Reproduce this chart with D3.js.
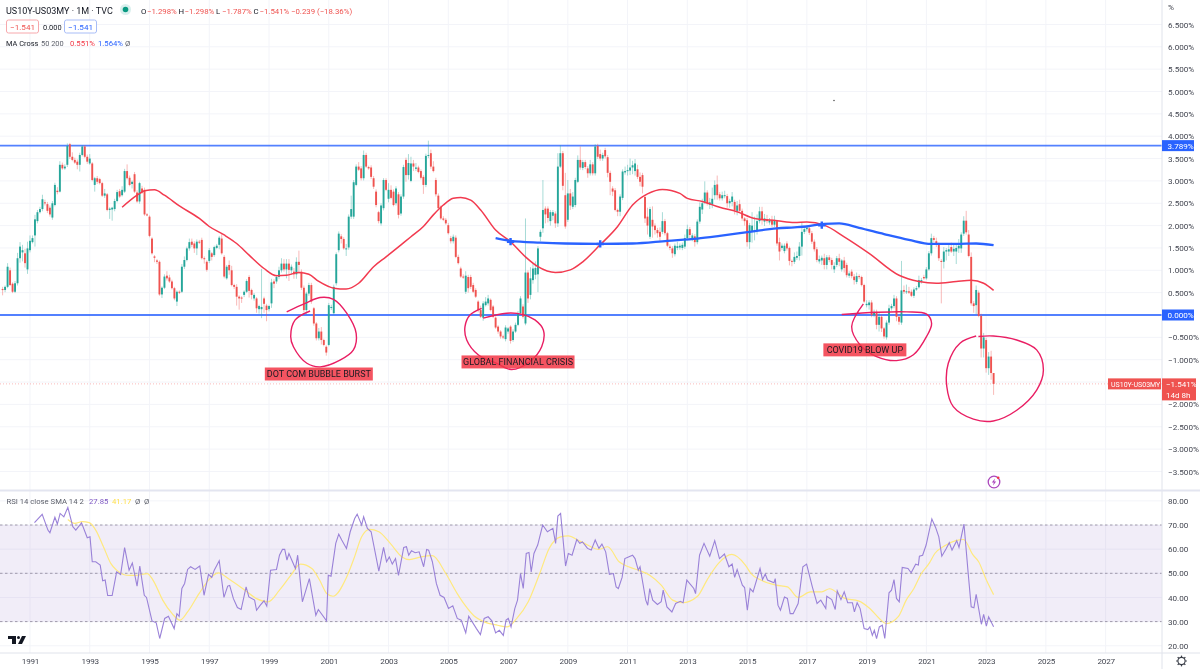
<!DOCTYPE html>
<html lang="en">
<head>
<meta charset="UTF-8">
<title>US10Y-US03MY</title>
<script src="https://d3js.org/d3.v7.min.js"></script>
<style>
    html, body { margin: 0; padding: 0; background: #fff; overflow: hidden; }
    svg { display: block; filter: blur(0.35px); }
    text { font-family: Roboto, sans-serif; }
    .tick text { fill: #434651; font-size: 8.1px; }
    .time .tick text { letter-spacing: -.2px; }
    .mark-label { font-size: 9px; fill: #1b1b22; text-anchor: middle; }
</style>
</head>
<body>
<svg id="chart" width="1200" height="669"></svg>
<script>
// monthly candles, one row = 20 bars, first bar Feb 1990
const opens = [
    .58,.56,.63,1.0,.70,.52,.71,1.27,1.40,1.38,1.02,1.45,1.63,1.78,2.10,2.30,2.37,2.52,2.48,2.40,
    2.18,2.46,2.78,2.76,3.36,3.28,3.36,3.82,3.54,3.47,3.43,3.36,3.58,3.77,3.54,3.39,3.39,2.91,3.06,3.04,
    2.95,2.67,2.70,2.35,2.36,2.37,2.55,2.77,2.68,2.76,3.22,3.07,2.93,3.15,2.74,2.54,2.83,2.80,2.25,2.20,
    1.71,1.31,1.22,1.19,.46,.61,.88,.84,.75,.60,.30,.52,.52,1.08,1.23,1.49,1.64,1.60,1.49,1.64,
    1.68,1.27,1.19,1.21,1.38,1.34,1.50,1.57,1.71,1.30,.82,1.12,1.0,.67,.63,.41,.39,.45,.52,.85,
    .56,.37,.37,.13,.13,.37,.21,.13,.26,.75,.75,.85,1.0,1.15,1.02,1.15,1.0,.97,.91,1.19,
    .97,.61,.11,.48,.67,.15,-.19,-.52,-.37,-.56,-.71,-.67,.16,.04,.71,1.45,1.76,1.70,1.47,1.51,
    2.20,2.20,2.91,3.32,3.28,3.06,3.58,3.31,3.30,3.06,2.76,2.30,2.05,2.39,3.02,2.60,2.80,2.76,2.50,2.70,
    2.27,2.65,3.47,3.13,3.0,3.39,3.27,3.30,3.22,3.09,2.91,3.56,3.62,3.32,3.02,2.67,2.42,2.16,2.13,2.01,
    1.72,1.65,1.73,1.30,1.04,.86,.52,.85,.85,.67,.56,.30,.11,-.06,.22,.26,.34,.19,-.06,-.26,
    -.37,-.48,-.54,-.37,-.26,-.56,-.37,-.22,.04,.19,-.19,.95,.45,.78,.90,.91,1.75,1.94,2.38,2.38,
    2.10,2.22,2.27,2.05,3.32,3.62,2.68,2.13,2.72,2.42,2.46,2.98,3.47,3.29,3.42,3.28,3.17,3.37,3.17,3.78,
    3.60,3.50,3.69,3.53,3.18,2.83,2.79,2.35,2.31,2.62,3.19,3.22,3.23,3.30,3.22,3.26,3.09,3.13,2.64,2.20,
    1.75,2.13,2.0,1.90,1.86,1.86,2.10,1.83,1.53,1.49,1.36,1.50,1.51,1.50,1.53,1.72,1.92,1.70,1.76,1.63,
    2.09,2.36,2.53,2.74,2.47,2.47,2.68,2.92,2.70,2.61,2.66,2.66,2.50,2.53,2.53,2.33,2.48,2.33,2.16,2.12,
    1.63,1.87,1.87,1.90,2.10,2.32,2.09,2.14,2.07,2.12,2.02,2.10,1.63,1.50,1.43,1.60,1.50,1.21,1.19,1.28,
    1.32,1.53,1.86,1.92,1.94,1.83,1.64,1.47,1.20,1.22,1.27,1.12,1.29,1.23,1.02,1.12,1.27,1.02,1.22,1.12,
    .88,.97,.86,.74,.87,.85,.67,.22,.22,.28,.0,.07,-.22,-.04,-.30,-.50,-.17,.15,.20,.37,
    -.04,-.17,.56,.52,.53,.52,.43,.57,.62,.75,.85,.82,1.02,1.38,1.72,1.65,1.57,1.21,1.19,1.42,
    1.42,1.52,1.42,1.42,1.49,1.49,1.82,2.11,1.80,1.30,.26,.22,.50,-.02,-.75,-.56,-1.19,-.93,-1.298
];
const closes = [
    .56,.63,1.08,.67,.52,.71,1.27,1.53,1.45,1.16,1.49,1.66,1.72,2.14,2.30,2.37,2.59,2.50,2.33,2.25,
    2.50,2.91,2.75,3.36,3.28,3.32,3.78,3.54,3.47,3.41,3.36,3.58,3.77,3.54,3.43,3.50,3.02,3.06,2.98,2.95,
    2.67,2.72,2.35,2.38,2.40,2.55,2.75,2.65,2.80,3.22,3.06,2.91,2.98,2.76,2.54,2.95,2.74,2.25,2.23,1.77,
    1.38,1.28,1.19,.46,.61,.86,.82,.75,.60,.37,.52,.50,1.08,1.23,1.49,1.63,1.57,1.49,1.64,1.62,
    1.27,1.25,1.01,1.45,1.30,1.52,1.55,1.73,1.38,.86,1.08,1.0,.67,.63,.41,.37,.37,.52,.76,.54,
    .45,.45,.15,.20,.18,.25,.11,.20,.73,.70,.85,1.0,1.15,1.02,1.15,1.01,1.08,.91,1.19,1.12,
    .61,.11,.48,.67,.30,-.19,-.52,-.37,-.56,-.67,-.84,.22,.18,.63,1.36,1.82,1.70,1.49,1.49,2.20,
    2.37,2.97,3.32,3.25,3.06,3.58,3.32,3.28,3.09,2.87,2.46,2.10,2.45,3.02,2.80,2.80,2.62,2.46,2.83,2.24,
    2.65,3.31,3.13,3.40,3.39,3.32,3.30,3.20,3.07,2.91,3.56,3.58,3.32,3.22,2.70,2.39,2.16,2.13,2.05,1.83,
    1.65,1.75,1.30,1.16,.86,.85,.88,.60,.63,.52,.41,.11,-.04,.26,.30,.37,.11,-.04,-.28,-.37,
    -.48,-.49,-.28,-.30,-.58,-.37,-.22,.04,.37,-.04,.95,.37,.82,1.04,1.05,1.49,1.86,2.35,2.25,2.17,
    2.30,2.30,2.05,3.32,3.62,2.89,1.98,2.72,2.45,2.65,3.02,3.47,3.30,3.42,3.31,3.17,3.37,3.17,3.77,3.54,
    3.50,3.58,3.55,3.18,2.98,2.76,2.35,2.31,2.65,3.21,3.22,3.24,3.30,3.35,3.39,3.09,2.98,2.87,2.16,2.00,
    2.37,1.98,1.90,1.83,1.75,2.10,1.83,1.55,1.50,1.38,1.55,1.54,1.55,1.57,1.72,1.92,1.79,1.78,1.63,2.09,
    2.42,2.50,2.74,2.50,2.52,2.60,2.91,2.68,2.61,2.68,2.68,2.50,2.55,2.65,2.35,2.45,2.33,2.16,2.10,1.63,
    2.01,2.00,1.90,2.10,2.32,2.12,2.16,2.10,2.12,2.02,2.12,1.60,1.42,1.55,1.55,1.49,1.21,1.19,1.30,1.32,
    1.53,1.86,1.92,1.95,1.84,1.64,1.47,1.23,1.25,1.28,1.12,1.29,1.23,1.12,1.10,1.27,1.19,1.22,1.05,.89,
    .93,.87,.78,.87,.85,.67,.30,.25,.28,.0,.07,-.22,-.04,-.30,-.48,-.17,.15,.20,.37,-.04,
    -.15,.55,.52,.53,.50,.43,.57,.60,.78,.78,.82,1.02,1.38,1.72,1.68,1.57,1.27,1.19,1.42,1.45,
    1.47,1.42,1.48,1.50,1.55,1.80,2.11,1.85,1.32,.26,.20,.56,-.02,-.75,-.50,-1.19,-.93,-1.298,-1.541
];
// wick lengths above / below the body
const wickUp = [
    .05,.03,.08,.06,.03,.05,.12,.1,.12,.1,.15,.12,.06,.1,.05,.05,.1,.06,.05,.05,
    .05,.05,.08,.08,.05,.05,.06,.03,.1,.05,.05,.05,.03,.03,.05,.1,.03,.03,.05,.03,
    .03,.1,.03,.03,.02,.05,.05,.05,.08,.05,.15,.05,.03,.05,.05,.03,.06,.05,.03,.03,
    .03,.03,.03,.03,.03,.05,.1,.06,.04,.03,.03,.03,.06,.08,.04,.08,.07,.05,.05,.04,
    .05,.04,.03,.05,.03,.03,.04,.04,.1,.04,.04,.1,.1,.03,.06,.03,.03,.03,.04,.04,
    .03,.04,.03,.03,.85,.04,.04,.03,.08,.05,.05,.08,.12,.1,.1,.1,.05,.08,.1,.25,
    .05,.05,.04,.05,.05,.03,.03,.08,.1,.03,.03,.05,.05,.05,.04,.05,.05,.04,.1,.05,
    .3,.05,.05,.1,.05,.1,.05,.03,.05,.05,.05,.03,.05,.04,.04,.15,.1,.05,.05,.05,
    .05,.05,.05,.2,.15,.08,.1,.04,.04,.04,.05,.32,.08,.12,.05,.05,.03,.05,.04,.05,
    .05,.05,.05,.05,.04,.05,.1,.05,.05,.05,.04,.03,.1,.05,.1,.08,.03,.03,.03,.03,
    .03,.04,.05,.03,.03,.05,.05,.05,.05,.05,1.21,.05,.25,.1,.15,.05,.05,.67,.05,.05,
    .05,.05,.05,.3,.18,.05,.5,.3,.1,.1,.05,.1,.3,.05,.05,.05,.1,.05,.05,.05,
    .1,.05,.05,.05,.05,.05,.05,.03,.05,.05,.1,.12,.2,.1,.1,.1,.1,.05,.05,.2,
    .05,.3,.05,.05,.1,.2,.05,.03,.05,.05,.05,.1,.05,.05,.08,.1,.05,.05,.05,.05,
    .1,.1,.25,.05,.1,.25,.1,.2,.05,.08,.1,.05,.05,.1,.05,.1,.1,.05,.03,.05,
    .05,.3,.3,.15,.1,.1,.1,.1,.05,.1,.1,.03,.1,.05,.05,.05,.03,.03,.1,.1,
    .1,.2,.05,.06,.03,.05,.05,.05,.08,.05,.1,.05,.05,.05,.08,.05,.1,.03,.08,.05,
    .05,.05,.06,.08,.04,.03,.03,.08,.05,.05,.05,.05,.1,.05,.03,.05,.08,.05,.08,.05,
    .02,.66,.1,.15,.1,.05,.05,.05,.1,.05,.05,.05,.05,.1,.05,.08,.05,.04,.1,.05,
    .1,.1,.1,.1,.15,.05,.1,.22,.1,.1,.05,.1,.05,.05,.1,.05,.1,.13,0
];
const wickDown = [
    .12,.05,.03,.02,.03,.03,.05,.1,.2,.1,.1,.05,.03,.25,.05,.03,.05,.05,.05,.05,
    .05,.03,.05,.02,.03,.03,.05,.05,.03,.03,.1,.15,.03,.03,.05,.03,.03,.15,.05,.03,
    .03,.05,.03,.2,.25,.05,.03,.03,.03,.03,.03,.03,.1,.03,.03,.05,.03,.03,.02,.03,
    .03,.1,.05,.03,.08,.03,.05,.03,.03,.04,.1,.03,.03,.05,.03,.05,.05,.1,.15,.03,
    .03,.1,.04,.05,.08,.04,.03,.1,.03,.04,.03,.1,.03,.05,.2,.25,.1,.05,.03,.15,
    .1,.05,.1,.1,.2,.2,.25,.05,.1,.1,.05,.05,.05,.05,.2,.25,.1,.1,.1,.2,
    .05,.05,.1,.05,.05,.05,.05,.05,.1,.03,.07,.03,.05,.03,.05,.05,.1,.03,.15,.05,
    .05,.05,.03,.03,.05,.05,.03,.03,.05,.05,.05,.05,.05,.05,.03,.08,.03,.03,.05,.08,
    .05,.05,.15,.1,.03,.1,.05,.03,.04,.2,.05,.05,.05,.03,.05,.03,.03,.03,.03,.03,
    .05,.05,.03,.03,.03,.04,.05,.1,.05,.03,.03,.05,.03,.07,.03,.05,.03,.03,.03,.05,
    .05,.05,.05,.05,.06,.04,.03,.03,.03,.04,.04,.1,.1,.08,.1,.4,.1,.1,.2,.1,
    .1,.1,.1,.08,.03,.1,.05,.05,.1,.05,.05,.03,.05,.05,.05,.1,.05,.05,.05,.05,
    .05,.05,.05,.1,.3,.1,.03,.1,.1,.05,.05,.1,.1,.15,.1,.05,.1,.15,.1,.2,
    .05,.25,.1,.1,.1,.05,.05,.03,.05,.1,.05,.05,.05,.05,.05,.05,.1,.05,.1,.05,
    .05,.1,.05,.05,.1,.08,.1,.1,.05,.05,.05,.1,.1,.1,.1,.1,.05,.05,.1,.1,
    .15,.25,.2,.1,.05,.1,.1,.05,.05,.05,.05,.05,.2,.05,.05,.05,.1,.1,.05,.05,
    .1,.2,.05,.05,.05,.05,.05,.05,.05,.1,.1,.1,.05,.1,.08,.05,.1,.05,.1,.05,
    .05,.05,.1,.05,.05,.03,.03,.05,.1,.05,.05,.1,.15,.08,.05,.05,.05,.05,.05,.1,
    .07,.05,.05,.05,.03,.03,.05,.03,.03,.05,.03,.03,.03,.05,.05,.05,.06,.93,.15,.2,
    .1,.03,.1,.28,.1,.1,.05,.05,.03,.05,.15,.2,.03,.2,.2,.1,.15,.15,.246
];

// moving averages, [bar, value] at the bends
const ma50Points = [[48,2.41],[54,2.68],[57,2.78],[61,2.80],[65,2.68],[71,2.44],[79,2.16],[83,1.98],[89,1.79],[94,1.60],[99,1.34],[105,1.04],[110,.88],[114,.89],[119,.95],[123,.91],[127,.75],[133,.60],[138,.58],[143,.71],[149,1.08],[154,1.30],[160,1.57],[164,1.75],[169,1.98],[173,2.24],[177,2.46],[181,2.61],[184,2.63],[188,2.57],[192,2.35],[198,1.90],[204,1.64],[210,1.30],[215,1.08],[222,.95],[228,1.01],[233,1.19],[240,1.57],[247,1.98],[253,2.46],[259,2.71],[265,2.81],[272,2.72],[275,2.61],[281,2.54],[288,2.41],[295,2.31],[302,2.16],[311,2.11],[318,2.07],[323,2.08],[330,2.01],[338,1.75],[348,1.38],[360,.89],[368,.75],[375,.71],[383,.75],[389,.78],[394,.71],[398,.551]];
const ma200Points = [[198,1.72],[204,1.66],[216,1.62],[226,1.60],[240,1.59],[253,1.60],[267,1.66],[279,1.71],[288,1.77],[300,1.86],[311,1.94],[318,1.96],[323,1.98],[330,2.04],[336,2.05],[344,1.95],[354,1.81],[364,1.68],[373,1.59],[383,1.59],[391,1.60],[398,1.564]];
const crossPoints = [[204,1.64],[240,1.59],[329,2.01]];

// RSI pane, [bar, value] at the bends
const rsiPoints = [[12.8,71],[15.9,74.4],[18.2,67.9],[19,66.8],[21,73.2],[22,70.4],[23.1,74.8],[24.6,73.4],[26.2,77.3],[28.2,69.3],[29.4,67.9],[31.7,70.9],[34,64.7],[35.1,65.1],[36,54.8],[37.4,54.8],[39.2,53.4],[40.2,46.9],[41.2,47.2],[42.2,40.8],[44,40.8],[45.8,50.6],[47.4,49.5],[49,60.6],[50.8,51.3],[52.1,54.3],[54,44.7],[55.1,53],[56.9,40.9],[57.8,40],[60,30.3],[61.7,29.5],[63.1,23],[65.1,31.3],[66.6,32.2],[68.9,27.1],[70,33.3],[70.9,32.2],[72,43.7],[73.1,45.8],[74.3,51.6],[75.5,52.7],[77.3,51.6],[79.2,53],[80.9,40.9],[82.7,49.6],[84,48.3],[85,51.3],[87,55.2],[88.9,40],[90.4,44.7],[91.2,45],[92.7,39.5],[94.3,35.8],[95.8,35],[97.8,44.4],[98.9,40.2],[101.2,38.9],[102,34.7],[103.5,36.8],[105,38.6],[106.1,36.4],[107.6,51.3],[110,51.6],[111.2,57.5],[112.4,59.9],[113.3,59.9],[114.2,55.5],[115,58.2],[117.6,52],[118.5,57.5],[120.4,38.2],[123.2,47.8],[125.8,32.6],[126.8,35],[130.1,30.3],[130.8,49.2],[131.9,48.8],[133.8,62.4],[135,66.2],[136.2,63.8],[138.1,60.3],[139.6,67.2],[141.4,72.7],[142.4,74.5],[144.2,70],[145,73.4],[146.5,68.6],[148,67.2],[151.1,50.9],[153,60.7],[154.2,54.8],[155.3,56.8],[156.5,53.8],[157.8,56.1],[159,49.1],[161.1,60.7],[162.2,61],[163.1,57.5],[164.2,59.3],[165.7,58.5],[167.3,58.9],[169.1,52.7],[170.3,59.9],[171.1,59.6],[172.6,54.8],[174.2,45.8],[175.7,40.9],[177.3,40],[179.1,35.4],[180.8,36.5],[182.6,31.3],[184.2,30.6],[186,25.3],[187.2,32.2],[190.3,27.1],[191.9,24.6],[193.4,31.3],[195,32],[196.5,30.3],[198,25.3],[199.5,26.4],[201.1,24.3],[202.2,30.6],[203.1,31.3],[204.2,27.8],[205.7,35.4],[206.8,38.9],[208,49.9],[209.1,43.7],[210.3,58.2],[211.4,58.6],[212.3,50.6],[213.4,58.2],[214.9,61.7],[216.9,70],[218.8,67.2],[221,68.6],[222.1,62.4],[223,73.7],[224.1,74.8],[226.1,53],[227.2,58.2],[228.7,57.5],[230.6,64],[231.8,62.4],[232.9,63],[234.9,60.3],[236.4,59.6],[238,63.8],[239.5,60.3],[240.7,62.1],[242.2,58.9],[243.7,49.6],[245.3,49.9],[246.4,44.4],[247.3,43.7],[248.8,48.3],[249.9,56.1],[253,57.5],[254,56.1],[255.3,51.3],[256,52.7],[258.3,38.9],[259.1,36.8],[259.9,43.7],[261.1,38.9],[263,37.1],[264.5,38.2],[265.3,43],[266.8,36.1],[268.8,34],[270.3,37.5],[272.2,38.4],[273.3,37.8],[274.8,47.2],[277.6,43.7],[278.3,41.6],[279.9,57.5],[281.7,62.4],[284,57.1],[286,63.5],[287.9,56.1],[289.9,58],[291.7,52.7],[293,53.8],[294,48.3],[295,51.6],[297.1,45.1],[298,44.1],[299.1,34.7],[300.2,43.7],[301.4,42.3],[304.2,52],[305.2,47.4],[306.3,49.7],[307.2,47.2],[309.8,46.1],[310.3,47.8],[311.4,36.8],[312.4,34.7],[314,40.2],[315.2,39.6],[316.3,33.3],[317.5,33.3],[319.5,37.5],[321.4,52.7],[322.9,53.8],[325.2,44.4],[327.1,37.5],[328.6,38.9],[330.6,35.4],[331,40.5],[333,39.1],[334.4,35],[335.2,42.7],[336.7,39.1],[338,42.3],[339.4,37.8],[341.3,37.8],[342.1,34],[343.2,37.8],[344.4,35.4],[346,27.1],[347.5,26.7],[348.3,27.8],[349.3,24.3],[350.1,26.4],[351,23],[352.1,27.8],[353.3,28.5],[354.3,23],[356,41.9],[357,43],[358,47.4],[359,39.6],[360.1,38.2],[361.3,52.4],[363.6,52],[364.9,50.2],[366.7,53.8],[367.8,53.4],[368.2,57.1],[369.5,57.5],[370.9,61.7],[373.2,72.5],[374.7,69],[376,65.1],[377.2,57.1],[379,60.3],[380.2,62.7],[381.3,59.6],[383.2,63.5],[384.1,60.7],[386.1,70.4],[387.8,49.9],[389,36.1],[390.1,35.7],[391,41.3],[393.1,28.9],[394,33],[395.1,28.1],[396,32],[398,27.85]];
const smaPoints = [[26.2,72.3],[29,70.7],[32,71.4],[34.8,71],[37.4,67.9],[40.5,61],[43.5,54],[45.8,51.3],[49.7,49.2],[53.5,49.1],[58.1,49.9],[60.4,47.2],[64.3,38.9],[68.1,33.3],[71.2,30.6],[74.3,34],[78.9,41.6],[82.7,47.2],[86.6,50.2],[91.2,47.4],[97.3,43],[102,39.5],[106.6,38.2],[111.2,43],[115.8,49.2],[119.6,53.8],[124.2,52],[127.3,47.2],[130.4,41.4],[132.7,40.5],[138.1,48.3],[141.1,56.1],[144.2,65.1],[147.3,68.2],[151.1,67.2],[155.7,62.4],[160.4,56.8],[163.4,55.7],[168,56.8],[172.6,57.3],[178,49.9],[182.6,41.6],[185.7,36.8],[189.5,32.2],[193.4,29.9],[198.8,28.5],[202.6,27.8],[206.5,31.3],[211.1,38.2],[215.7,49.9],[219.5,60.3],[224.1,65.1],[227.2,65.5],[231,63.8],[234.9,61.7],[239.5,59.9],[243,61],[247.6,54.8],[251.4,52.7],[255.3,51.3],[259.9,49.2],[264.5,45.1],[269.1,38.9],[273,37.8],[279.1,40.5],[282.9,47.2],[287.5,54.1],[292.9,57.8],[298.3,53.4],[300.6,49.9],[304.5,47.2],[310.6,45.1],[315.2,44.4],[319.5,40],[324.4,42.3],[329,42.3],[332.1,43.6],[338.3,39.6],[343.7,38.6],[348.3,35.4],[352.1,31.3],[354.9,29.2],[359.8,32.2],[362.9,38.9],[366,43.7],[369,49.9],[372.1,54.1],[374.4,58.2],[378.2,61.3],[382.8,63.5],[385.9,64],[389.8,57.5],[392,54.8],[395.1,47.2],[398,41.17]];

// tick labels, 0 and -1.5 sit under the axis tags
const priceTicks = [6.5,6,5.5,5,4.5,4,3.5,3,2.5,2,1.5,1,.5,-.5,-1,-2,-2.5,-3,-3.5];
const gridPrices = [6.5,6,5.5,5,4.5,4,3.5,3,2.5,2,1.5,1,.5,0,-.5,-1,-1.5,-2,-2.5,-3,-3.5];
const rsiTicks = [80,70,60,50,40,30,20];
const rsiLevels = [70,50,30];
const yearTicks = [1991,1993,1995,1997,1999,2001,2003,2005,2007,2009,2011,2013,2015,2017,2019,2021,2023,2025,2027];
const levelValues = [3.789,0];
const lastClose = -1.541;

// freehand circles and their labels, [bar, value]
const dotComCircle = [[114.1,.07],[121.5,.26],[127.5,.39],[132.9,.35],[138.2,.04],[142,-.41],[140.9,-.78],[135.5,-1.01],[127.5,-1.16],[122.2,-1.08],[116.8,-.71],[115.7,-.48],[117.5,-.11],[123.5,.09]];
const gfcCircle = [[192.4,.15],[187.7,0],[185.7,-.26],[186.4,-.56],[191,-.89],[198.4,-1.08],[204.4,-1.22],[211.8,-1.04],[216.5,-.71],[217.2,-.34],[213.8,-.11],[209.1,.01],[202.4,.04],[193,-.07]];
const covidCircle = [[345.7,.25],[341,-.26],[344.4,-.67],[351,-.93],[359,-1.02],[365.8,-.89],[371.1,-.48],[373.1,-.19],[371.1,.02],[363.1,.07],[351,.06],[337,.01]];
const lastCircle = [[391,-.47],[384.5,-.63],[379.8,-1.08],[379.2,-1.6],[381.8,-2.05],[389.9,-2.33],[397.9,-2.37],[407.3,-2.13],[415.3,-1.68],[418,-1.23],[415.3,-.78],[407.3,-.56],[397.9,-.47],[391.9,-.48]];
const markLabels = ["DOT COM BUBBLE BURST","GLOBAL FINANCIAL CRISIS","COVID19 BLOW UP"];
const markBars = [127,207,346.3];
const markValues = [-1.32,-1.05,-.78];
const markWidths = [108,113,83];

const svg = d3.select("#chart");
const paneRight = 1162;

const x = d3.scaleLinear().domain([0,398]).range([2.6,993.6]);
const y = d3.scaleLinear().domain([0,1]).range([315,270.3]);
const yr = d3.scaleLinear().domain([70,30]).range([525,621.6]);
const yearBar = yr_ => (yr_ - 1991) * 12 + 11;

// grid
const grid = svg.append("g").attr("stroke","#f3f4f9").attr("stroke-width",1);
grid.selectAll("line.v").data(yearTicks).enter().append("line").attr("class","v")
    .attr("x1",d => x(yearBar(d))).attr("x2",d => x(yearBar(d))).attr("y1",0).attr("y2",653);
grid.selectAll("line.h").data(gridPrices).enter().append("line").attr("class","h")
    .attr("x1",0).attr("x2",paneRight).attr("y1",d => y(d)).attr("y2",d => y(d));
grid.selectAll("line.r").data(rsiTicks).enter().append("line").attr("class","r")
    .attr("x1",0).attr("x2",paneRight).attr("y1",d => yr(d)).attr("y2",d => yr(d));

// RSI band
svg.append("rect").attr("x",0).attr("width",paneRight).attr("y",yr(70)).attr("height",yr(30)-yr(70))
    .attr("fill","#7e57c2").attr("opacity",.11);
svg.selectAll("line.lvl").data(rsiLevels).enter().append("line").attr("class","lvl")
    .attr("x1",0).attr("x2",paneRight).attr("y1",d => yr(d)).attr("y2",d => yr(d))
    .attr("stroke","#8d8699").attr("stroke-width",1).attr("stroke-dasharray","2.5 2.5").attr("opacity",.8);

// level lines
svg.selectAll("line.level").data(levelValues).enter().append("line").attr("class","level")
    .attr("x1",0).attr("x2",paneRight).attr("y1",d => y(d)).attr("y2",d => y(d))
    .attr("stroke","#2962ff").attr("stroke-width",1.8).attr("opacity",.8);
svg.append("line").attr("x1",0).attr("x2",paneRight).attr("y1",y(lastClose)).attr("y2",y(lastClose))
    .attr("stroke","#ef5350").attr("stroke-width",1).attr("stroke-dasharray","1 2").attr("opacity",.4);

// candles
const bars = d3.range(closes.length);
const isUp = i => closes[i] >= opens[i];
svg.append("g").selectAll("line").data(bars).enter().append("line")
    .attr("x1",i => x(i)).attr("x2",i => x(i))
    .attr("y1",i => y(Math.max(opens[i],closes[i]) + wickUp[i]))
    .attr("y2",i => y(Math.min(opens[i],closes[i]) - wickDown[i]))
    .attr("stroke",i => isUp(i) ? "#26a69a" : "#ef5350")
    .attr("stroke-width",1).attr("opacity",.4);
svg.append("g").selectAll("rect").data(bars).enter().append("rect")
    .attr("x",i => x(i) - 0.95).attr("width",1.9)
    .attr("y",i => y(Math.max(opens[i],closes[i])))
    .attr("height",i => Math.max(1,Math.abs(y(opens[i]) - y(closes[i]))))
    .attr("fill",i => isUp(i) ? "#26a69a" : "#ef5350");

// moving averages
const maLine = d3.line().x(d => x(d[0])).y(d => y(d[1])).curve(d3.curveMonotoneX);
svg.append("path").attr("d",maLine(ma50Points))
    .attr("fill","none").attr("stroke","#f23a4f").attr("stroke-width",1.5);
svg.append("path").attr("d",maLine(ma200Points))
    .attr("fill","none").attr("stroke","#2962ff").attr("stroke-width",2.3);
svg.selectAll("path.cross").data(crossPoints).enter().append("path").attr("class","cross")
    .attr("transform",d => `translate(${x(d[0])},${y(d[1])})`)
    .attr("d",d3.symbol(d3.symbolCross,30))
    .attr("fill","#2962ff");

// freehand circles
const freehand = d3.line().x(d => x(d[0])).y(d => y(d[1])).curve(d3.curveCatmullRom.alpha(.5));
[dotComCircle,gfcCircle,covidCircle,lastCircle].forEach(pts => {
    svg.append("path").attr("d",freehand(pts)).attr("fill","none")
        .attr("stroke","#e91e63").attr("stroke-width",1.4);
});

// circle labels
markLabels.forEach((t,i) => {
    svg.append("rect").attr("x",x(markBars[i]) - markWidths[i]/2).attr("y",y(markValues[i]) - 6.5)
        .attr("width",markWidths[i]).attr("height",13).attr("fill","#f23645").attr("opacity",.85);
    svg.append("text").attr("class","mark-label").attr("x",x(markBars[i])).attr("y",y(markValues[i]) + 3.3).text(t);
});

// RSI lines
const rsiLine = d3.line().x(d => x(d[0])).y(d => yr(d[1]));
svg.append("path").attr("d",rsiLine.curve(d3.curveMonotoneX)(smaPoints))
    .attr("fill","none").attr("stroke","#ffe97f").attr("stroke-width",1.2);
svg.append("path").attr("d",rsiLine.curve(d3.curveLinear)(rsiPoints))
    .attr("fill","none").attr("stroke","#9a82d8").attr("stroke-width",1.1);

// frame
svg.append("line").attr("x1",paneRight).attr("x2",paneRight).attr("y1",0).attr("y2",669).attr("stroke","#e0e3eb");
svg.append("line").attr("x1",0).attr("x2",1200).attr("y1",490.5).attr("y2",490.5).attr("stroke","#e3e5f0").attr("stroke-width",2);
svg.append("line").attr("x1",0).attr("x2",1200).attr("y1",653).attr("y2",653).attr("stroke","#e0e3eb");

// axes
const priceFmt = d => d3.format(".3f")(d).replace("-","\u2212") + "%";
const pAxis = svg.append("g").attr("transform",`translate(${paneRight},0)`)
    .call(d3.axisRight(y).tickValues(priceTicks).tickFormat(priceFmt).tickSize(0).tickPadding(6));
pAxis.select(".domain").remove();
const rAxis = svg.append("g").attr("transform",`translate(${paneRight},0)`)
    .call(d3.axisRight(yr).tickValues(rsiTicks).tickFormat(d3.format(".2f")).tickSize(0).tickPadding(6));
rAxis.select(".domain").remove();
const tAxis = svg.append("g").attr("class","time").attr("transform","translate(0,653)")
    .call(d3.axisBottom(x).tickValues(yearTicks.map(yearBar)).tickFormat(b => 1991 + (b - 11) / 12).tickSize(0).tickPadding(5));
tAxis.select(".domain").remove();
svg.append("text").attr("x",1168).attr("y",10).attr("font-size",8.1).attr("fill","#434651").text("%");

// price tags on the axis
function tag(xPos,yPos,w,h,fill,txt,tx,ty,size){
    svg.append("rect").attr("x",xPos).attr("y",yPos).attr("width",w).attr("height",h).attr("fill",fill);
    txt.forEach((t,i) => svg.append("text").attr("x",tx).attr("y",ty + i * 11)
        .attr("font-size",size).attr("fill","#fff").text(t));
}
tag(paneRight,y(3.789) - 5.5,32,11,"#2962ff",["3.789%"],1167.5,y(3.789) + 3,8.1);
tag(paneRight,y(0) - 5.5,32,11,"#2962ff",["0.000%"],1167.5,y(0) + 3,8.1);
tag(1108,y(lastClose) - 5.5,53,11,"#ef5350",["US10Y-US03MY"],1111,y(lastClose) + 3,7);
tag(paneRight,y(lastClose) - 5.5,34,22,"#ef5350",["\u22121.541%","14d 8h"],1166,y(lastClose) + 3,8);

// header
const header = svg.append("g");
header.append("text").attr("x",6).attr("y",13.5).attr("font-size",9).attr("fill","#131722").text("US10Y-US03MY \u00b7 1M \u00b7 TVC");
header.append("circle").attr("cx",125.5).attr("cy",9.5).attr("r",5.5).attr("fill","#26a69a").attr("opacity",.18);
header.append("circle").attr("cx",125.5).attr("cy",9.5).attr("r",2.8).attr("fill","#089981");
const ohlc = [["O","\u22121.298%"],["H","\u22121.298%"],["L","\u22121.787%"],["C","\u22121.541%"]];
let ohlcX = 141;
ohlc.forEach(p => {
    header.append("text").attr("x",ohlcX).attr("y",13.5).attr("font-size",7.8).attr("fill","#131722").text(p[0]);
    header.append("text").attr("x",ohlcX + 6).attr("y",13.5).attr("font-size",7.8).attr("fill","#ef5350").text(p[1]);
    ohlcX += 37.5;
});
header.append("text").attr("x",ohlcX).attr("y",13.5).attr("font-size",7.8).attr("fill","#ef5350").text("\u22120.239 (\u221218.36%)");

header.append("rect").attr("x",6.5).attr("y",20).attr("width",32).attr("height",13).attr("rx",2)
    .attr("fill","#fff").attr("stroke","#f7a8ac");
header.append("text").attr("x",22.5).attr("y",29.5).attr("font-size",8.1).attr("text-anchor","middle").attr("fill","#ef5350").text("\u22121.541");
header.append("text").attr("x",43).attr("y",29.5).attr("font-size",7.4).attr("fill","#131722").text("0.000");
header.append("rect").attr("x",64.5).attr("y",20).attr("width",32).attr("height",13).attr("rx",2)
    .attr("fill","#fff").attr("stroke","#a8bdf7");
header.append("text").attr("x",80.5).attr("y",29.5).attr("font-size",8.1).attr("text-anchor","middle").attr("fill","#2962ff").text("\u22121.541");

header.append("text").attr("x",6).attr("y",46).attr("font-size",7.4).attr("fill","#131722").text("MA Cross");
header.append("text").attr("x",41).attr("y",46).attr("font-size",7.4).attr("fill","#5d606b").text("50 200");
header.append("text").attr("x",70).attr("y",46).attr("font-size",7.7).attr("fill","#f23645").text("0.551%");
header.append("text").attr("x",98).attr("y",46).attr("font-size",7.7).attr("fill","#2962ff").text("1.564%");
header.append("text").attr("x",125).attr("y",46).attr("font-size",7.7).attr("fill","#5d606b").text("\u00d8");

header.append("text").attr("x",6.5).attr("y",503.5).attr("font-size",7.7).attr("fill","#5d606b").text("RSI 14 close SMA 14 2");
header.append("text").attr("x",89).attr("y",503.5).attr("font-size",7.7).attr("fill","#7e57c2").text("27.85");
header.append("text").attr("x",112).attr("y",503.5).attr("font-size",7.7).attr("fill","#ffe04f").text("41.17");
header.append("text").attr("x",135).attr("y",503.5).attr("font-size",7.7).attr("fill","#5d606b").text("\u00d8");
header.append("text").attr("x",144).attr("y",503.5).attr("font-size",7.7).attr("fill","#5d606b").text("\u00d8");

// logo, lightning badge, gear
const logo = svg.append("g").attr("transform","translate(8,636)").attr("fill","#131722");
logo.append("path").attr("d","M0 0H8V8H4V3H0Z");
logo.append("circle").attr("cx",10.5).attr("cy",1.5).attr("r",1.5);
logo.append("path").attr("d","M14 0H18L14 8H10Z");

const badge = svg.append("g").attr("transform","translate(994,482)");
badge.append("circle").attr("r",5.8).attr("fill","#fff").attr("stroke","#ab47bc").attr("stroke-width",1.3);
badge.append("path").attr("d","M1 -3.5L-2.2 .6H-.2L-1 3.5L2.2 -.6H.2Z").attr("fill","#ab47bc");
badge.append("circle").attr("cx",4.2).attr("cy",-4.3).attr("r",1.3).attr("fill","#f23645");

const gear = svg.append("g").attr("transform","translate(1181.5,661)");
gear.append("circle").attr("r",3.6).attr("fill","none").attr("stroke","#3a3e48").attr("stroke-width",1.1);
gear.selectAll("line").data(d3.range(8)).enter().append("line")
    .attr("x1",d => 3.6 * Math.cos(d * Math.PI / 4)).attr("y1",d => 3.6 * Math.sin(d * Math.PI / 4))
    .attr("x2",d => 5.4 * Math.cos(d * Math.PI / 4)).attr("y2",d => 5.4 * Math.sin(d * Math.PI / 4))
    .attr("stroke","#3a3e48").attr("stroke-width",1.2);

svg.append("circle").attr("cx",834).attr("cy",100.5).attr("r",.7).attr("fill","#333");
</script>
</body>
</html>
